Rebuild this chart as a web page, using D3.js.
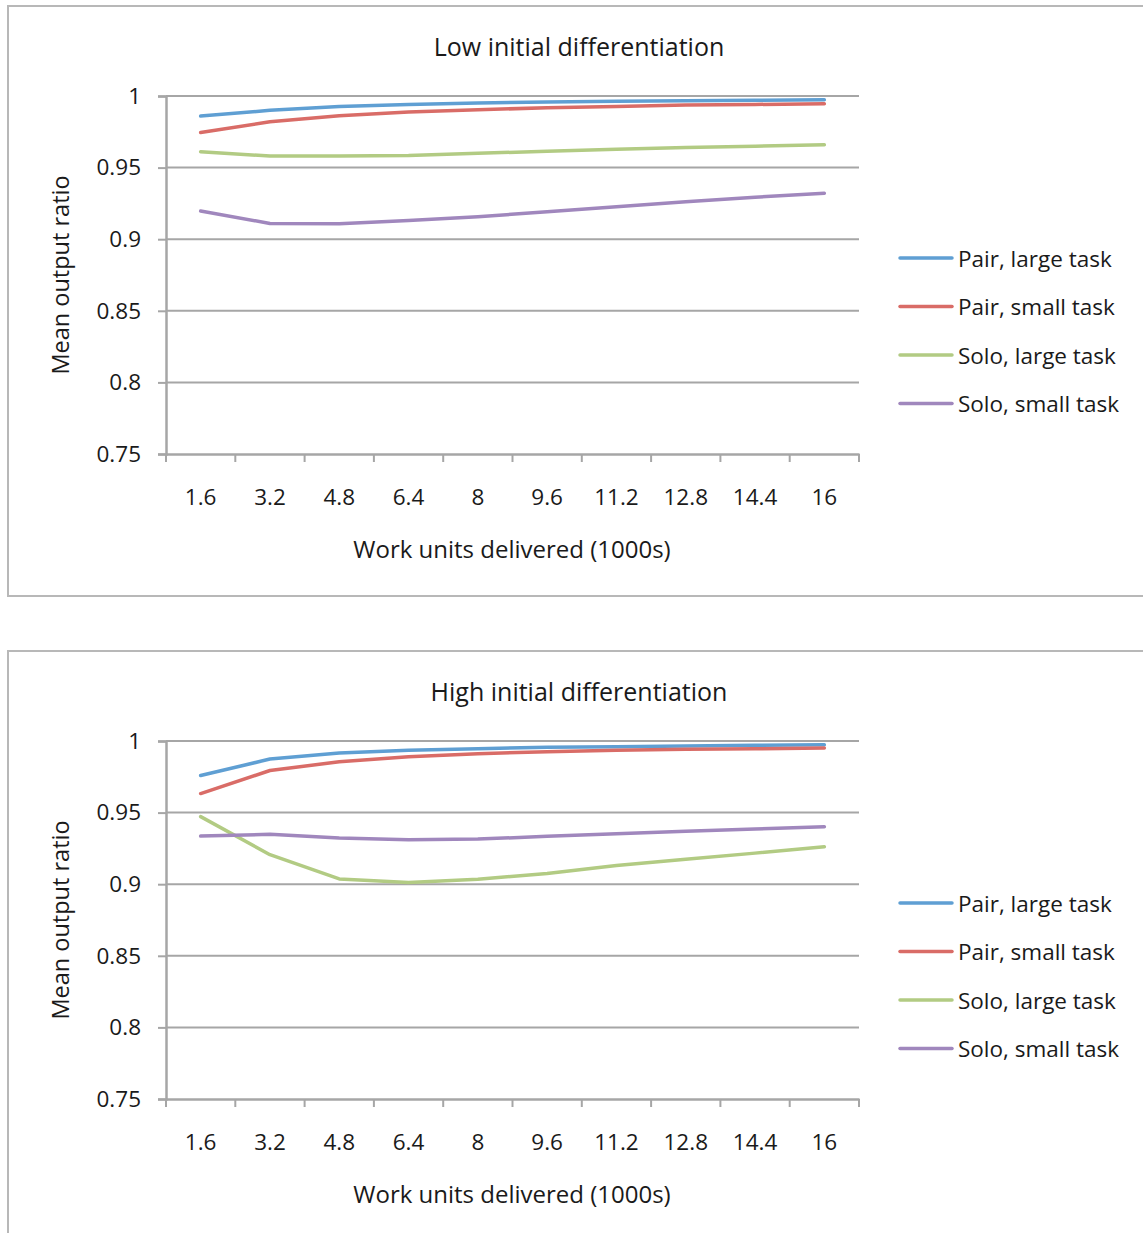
<!DOCTYPE html>
<html>
<head>
<meta charset="utf-8">
<script src="https://cdn.jsdelivr.net/npm/d3@7"></script>
<style>
  html, body { margin: 0; padding: 0; background: #fff; }
  svg text { font-family: "Open Sans", "DejaVu Sans", sans-serif; fill: #1a1a1a; }
</style>
</head>
<body>
<svg id="chart" width="1143" height="1233"></svg>
<script>
// Work units delivered (thousands)
const categories = ["1.6", "3.2", "4.8", "6.4", "8", "9.6", "11.2", "12.8", "14.4", "16"];
const seriesNames = ["Pair, large task", "Pair, small task", "Solo, large task", "Solo, small task"];
const yTicks = [0.75, 0.8, 0.85, 0.9, 0.95, 1];
const yTickLabels = ["0.75", "0.8", "0.85", "0.9", "0.95", "1"];

// Low initial differentiation
const lowPairLarge  = [0.986, 0.990, 0.9927, 0.9941, 0.9951, 0.9958, 0.9963, 0.9967, 0.997, 0.9974];
const lowPairSmall  = [0.9745, 0.982, 0.9862, 0.9888, 0.9904, 0.9918, 0.9927, 0.9937, 0.9941, 0.9946];
const lowSoloLarge  = [0.9611, 0.9581, 0.9581, 0.9585, 0.960, 0.9614, 0.9628, 0.964, 0.9649, 0.966];
const lowSoloSmall  = [0.9197, 0.911, 0.9108, 0.9131, 0.9157, 0.9192, 0.9227, 0.9262, 0.9293, 0.9321];

// High initial differentiation
const highPairLarge = [0.9759, 0.9874, 0.9916, 0.9935, 0.9946, 0.9956, 0.996, 0.9965, 0.997, 0.9974];
const highPairSmall = [0.9633, 0.9794, 0.9855, 0.989, 0.9911, 0.9925, 0.9935, 0.9942, 0.9946, 0.9951];
const highSoloLarge = [0.9472, 0.9206, 0.9037, 0.9012, 0.9035, 0.9075, 0.9131, 0.9175, 0.9217, 0.9262];
const highSoloSmall = [0.9336, 0.9348, 0.9322, 0.9311, 0.9315, 0.9334, 0.9353, 0.9369, 0.9386, 0.9402];

const colors = ["#5f9fd3", "#d96c67", "#b2cb83", "#a087bd"];
const fontStack = "'Open Sans', 'DejaVu Sans', sans-serif";

const svg = d3.select("#chart");

function drawPanel(top, title, series) {
  const g = svg.append("g").attr("transform", `translate(0,${top})`);

  // outer frame of the chart
  g.append("rect")
    .attr("x", 8).attr("y", 0)
    .attr("width", 1160).attr("height", 590)
    .attr("fill", "#fff")
    .attr("stroke", "#b8b8b8").attr("stroke-width", 2);

  const x0 = 166, x1 = 859, yTop = 90, yBot = 448;
  const x = d3.scaleBand().domain(categories).range([x0, x1]).paddingInner(0).paddingOuter(0);
  const y = d3.scaleLinear().domain([0.75, 1]).range([yBot, yTop]);

  g.append("text")
    .attr("x", 579).attr("y", 50)
    .attr("text-anchor", "middle")
    .attr("font-size", 25)
    .text(title);

  // horizontal gridlines
  g.append("g").selectAll("line")
    .data(yTicks.slice(1))
    .join("line")
    .attr("x1", x0).attr("x2", x1)
    .attr("y1", d => y(d)).attr("y2", d => y(d))
    .attr("stroke", "#a6a6a6").attr("stroke-width", 2);

  // y axis
  const yAxis = d3.axisLeft(y)
    .tickValues(yTicks)
    .tickFormat((d, i) => yTickLabels[i])
    .tickSize(8).tickPadding(17);
  const ya = g.append("g").attr("transform", `translate(${x0},0)`).call(yAxis);
  ya.select(".domain").attr("stroke", "#a6a6a6").attr("stroke-width", 2.5);
  ya.selectAll(".tick line").attr("stroke", "#a6a6a6").attr("stroke-width", 2);
  ya.selectAll(".tick text").attr("font-size", 22.5).attr("fill", "#1a1a1a")
    .style("font-family", fontStack);

  // x axis
  const xAxis = d3.axisBottom(x).tickSize(0).tickPadding(35);
  const xa = g.append("g").attr("transform", `translate(0,${yBot})`).call(xAxis);
  xa.select(".domain").attr("stroke", "#a6a6a6").attr("stroke-width", 2.5);
  xa.selectAll(".tick text").attr("font-size", 22.5).attr("fill", "#1a1a1a")
    .style("font-family", fontStack);
  // tick marks between categories
  const bounds = categories.map(c => x(c)).concat([x1]);
  xa.append("g").selectAll("line")
    .data(bounds)
    .join("line")
    .attr("x1", d => d).attr("x2", d => d)
    .attr("y1", 0).attr("y2", 8)
    .attr("stroke", "#a6a6a6").attr("stroke-width", 2);

  // axis titles
  g.append("text")
    .attr("transform", `translate(69,${(yTop + yBot) / 2}) rotate(-90)`)
    .attr("text-anchor", "middle")
    .attr("font-size", 23.5)
    .text("Mean output ratio");
  g.append("text")
    .attr("x", 512).attr("y", 552)
    .attr("text-anchor", "middle")
    .attr("font-size", 24)
    .text("Work units delivered (1000s)");

  // series lines
  const line = d3.line()
    .x((d, i) => x(categories[i]) + x.bandwidth() / 2)
    .y(d => y(d));
  g.append("g").selectAll("path")
    .data(series)
    .join("path")
    .attr("d", d => line(d))
    .attr("fill", "none")
    .attr("stroke", (d, i) => colors[i])
    .attr("stroke-width", 3.5)
    .attr("stroke-linejoin", "round")
    .attr("stroke-linecap", "round");

  // legend
  const lg = g.append("g").selectAll("g")
    .data(seriesNames)
    .join("g")
    .attr("transform", (d, i) => `translate(900,${252 + i * 48.5})`);
  lg.append("line")
    .attr("x1", 0).attr("x2", 52)
    .attr("stroke", (d, i) => colors[i])
    .attr("stroke-width", 3.5)
    .attr("stroke-linecap", "round");
  lg.append("text")
    .attr("x", 58).attr("y", 8.5)
    .attr("font-size", 22.5)
    .text(d => d);
}

drawPanel(6, "Low initial differentiation", [lowPairLarge, lowPairSmall, lowSoloLarge, lowSoloSmall]);
drawPanel(651, "High initial differentiation", [highPairLarge, highPairSmall, highSoloLarge, highSoloSmall]);
</script>
</body>
</html>
